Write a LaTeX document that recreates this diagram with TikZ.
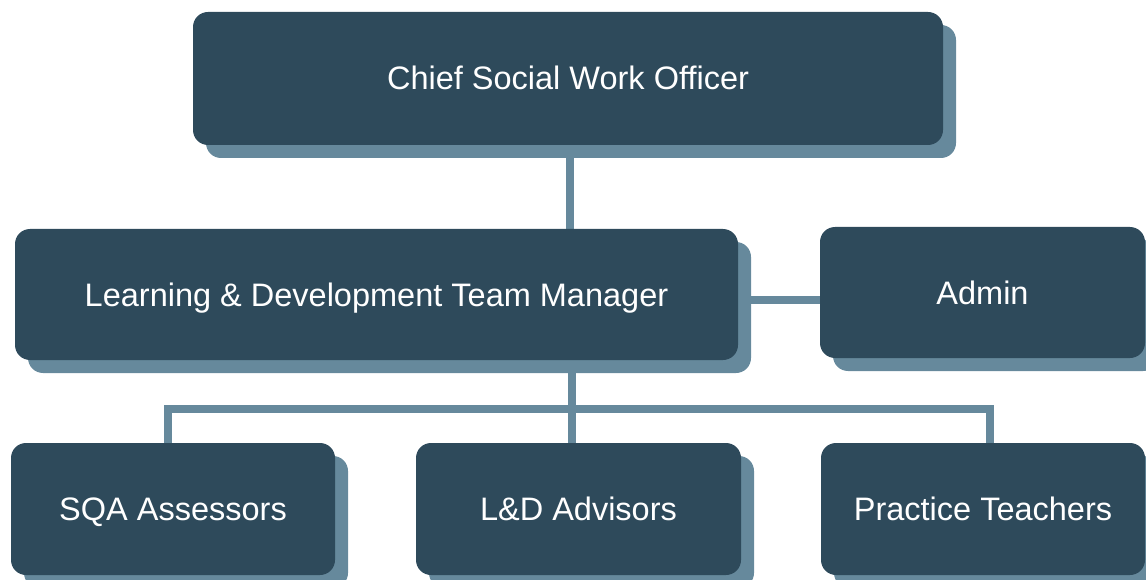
\documentclass[tikz,border=0pt]{standalone}
\usepackage{fontspec}
\setmainfont{Liberation Sans}
\usetikzlibrary{shadows,backgrounds}
\definecolor{boxc}{HTML}{2E4A5B}
\definecolor{shc}{HTML}{66899C}
\tikzset{
  box/.style={rectangle, rounded corners=15pt, fill=boxc, text=white,
    font=\fontsize{32.5}{38}\selectfont, inner sep=0pt,
    text height=23pt, text depth=0pt,
    general shadow={shadow xshift=13pt, shadow yshift=-13pt, fill=shc}},
  conn/.style={draw=shc, line width=8pt}
}
\begin{document}
\begin{tikzpicture}[x=1pt,y=-1pt]
\useasboundingbox (0,0) rectangle (1146,580);
\node[box, minimum width=750pt, minimum height=133pt] (top) at (568,78.5) {Chief Social Work Officer};
\node[box, minimum width=723pt, minimum height=131pt] (mgr) at (376.5,294.5) {Learning \& Development Team Manager};
\node[box, minimum width=325pt, minimum height=131pt] (admin) at (982.5,292.5) {Admin};
\node[box, minimum width=324pt, minimum height=132pt] (sqa) at (173,509) {SQA Assessors};
\node[box, minimum width=325pt, minimum height=132pt] (adv) at (578.5,509) {L\&D Advisors};
\node[box, minimum width=324pt, minimum height=132pt] (ptc) at (983,509) {Practice Teachers};
\coordinate (bus) at (572,409);
\begin{scope}[on background layer]
\draw[conn] ([xshift=2pt]top.south) -- ([xshift=2pt]top.south |- mgr.north);
\draw[conn] ([yshift=-5.5pt]mgr.east) -- ([yshift=-5.5pt]mgr.east -| admin.west);
\draw[conn] (bus |- mgr.south) -- (bus |- adv.north);
\draw[conn, line width=7.5pt] ([xshift=-5pt]sqa.north) |- (bus) -| ([xshift=7pt]ptc.north);
\end{scope}
\end{tikzpicture}
\end{document}
